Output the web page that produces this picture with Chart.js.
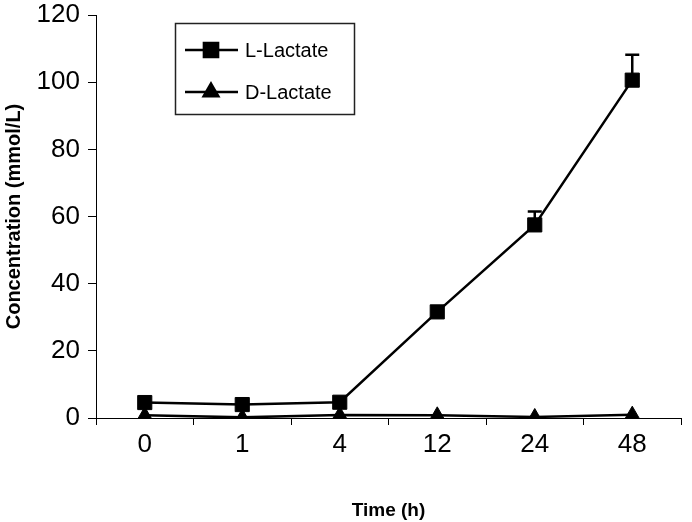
<!DOCTYPE html>
<html>
<head>
<meta charset="utf-8">
<style>
  html, body { margin: 0; padding: 0; background: #fff; }
  #wrap { width: 692px; height: 522px; }
</style>
<script src="https://cdn.jsdelivr.net/npm/chart.js@4/dist/chart.umd.min.js"></script>
</head>
<body>
<div id="wrap"><canvas id="c" width="692" height="522"></canvas></div>
<script>
const timeLabels = ['0', '1', '4', '12', '24', '48'];
const lLactate = [4.6, 4.0, 4.7, 31.6, 57.5, 100.6];
const lLactateErr = [0, 0, 0, 0, 4.0, 7.6];
const dLactate = [0.8, 0.2, 0.9, 0.8, 0.3, 1.0];
const yTicks = [0, 20, 40, 60, 80, 100, 120];

const FONT = "'Liberation Sans', Arial, sans-serif";

const errorBars = {
  id: 'errorBars',
  afterDatasetsDraw(chart) {
    const ctx = chart.ctx;
    const meta = chart.getDatasetMeta(0);
    const ys = chart.scales.y;
    ctx.save();
    ctx.strokeStyle = '#000';
    ctx.lineWidth = 2.5;
    meta.data.forEach((pt, i) => {
      const e = lLactateErr[i];
      if (!e) return;
      const yTop = ys.getPixelForValue(lLactate[i] + e);
      ctx.beginPath();
      ctx.moveTo(pt.x, pt.y);
      ctx.lineTo(pt.x, yTop);
      ctx.moveTo(pt.x - 7, yTop);
      ctx.lineTo(pt.x + 7, yTop);
      ctx.stroke();
    });
    ctx.restore();
  }
};

const boxLegend = {
  id: 'boxLegend',
  afterDraw(chart) {
    const ctx = chart.ctx;
    ctx.save();
    ctx.strokeStyle = '#222';
    ctx.lineWidth = 1.5;
    ctx.strokeRect(175.5, 23.5, 179, 91);
    const rows = [50, 92];
    chart.data.datasets.forEach((ds, i) => {
      const y = rows[i];
      ctx.strokeStyle = '#000';
      ctx.lineWidth = 2.5;
      ctx.beginPath();
      ctx.moveTo(185, y);
      ctx.lineTo(238, y);
      ctx.stroke();
      ctx.fillStyle = '#000';
      Chart.helpers.drawPoint(ctx, {
        pointStyle: ds.pointStyle,
        radius: ds.pointRadius,
        borderWidth: 1
      }, 211, y);
      ctx.fillStyle = '#000';
      ctx.font = '20px ' + FONT;
      ctx.textBaseline = 'middle';
      ctx.textAlign = 'left';
      ctx.fillText(ds.label, 245, y + 1);
    });
    ctx.restore();
  }
};

new Chart(document.getElementById('c'), {
  type: 'line',
  data: {
    labels: timeLabels,
    datasets: [
      {
        label: 'L-Lactate',
        data: lLactate,
        borderColor: '#000',
        backgroundColor: '#000',
        borderWidth: 2.5,
        pointStyle: 'rect',
        pointRadius: 10,
        pointBorderWidth: 1,
        tension: 0
      },
      {
        label: 'D-Lactate',
        data: dLactate,
        borderColor: '#000',
        backgroundColor: '#000',
        borderWidth: 2.5,
        pointStyle: 'triangle',
        pointRadius: 8.5,
        pointBorderWidth: 1,
        tension: 0
      }
    ]
  },
  options: {
    responsive: false,
    animation: false,
    devicePixelRatio: 1,
    layout: { padding: { top: 15, right: 4, left: 0, bottom: 0 } },
    plugins: {
      legend: { display: false },
      tooltip: { enabled: false }
    },
    scales: {
      x: {
        type: 'category',
        offset: true,
        grid: { drawOnChartArea: false, drawTicks: true, tickLength: 7, color: '#000', lineWidth: 1, offset: true },
        border: { color: '#000', width: 1 },
        ticks: { color: '#000', font: { family: FONT, size: 26 }, padding: 4, maxRotation: 0 },
        title: { display: true, text: 'Time (h)', color: '#000', font: { family: FONT, size: 19, weight: 'bold' }, padding: { top: 28, bottom: 0 } },
        afterFit(s) { s.height = 104; s.paddingLeft = 0; s.paddingRight = 0; }
      },
      y: {
        min: 0,
        max: 120,
        afterBuildTicks(s) { s.ticks = yTicks.map(v => ({ value: v })); },
        grid: { drawOnChartArea: false, drawTicks: true, tickLength: 8, color: '#000', lineWidth: 1 },
        border: { color: '#000', width: 1 },
        ticks: { color: '#000', font: { family: FONT, size: 26 }, padding: 8 },
        title: { display: true, text: 'Concentration (mmol/L)', color: '#000', font: { family: FONT, size: 20, weight: 'bold' }, padding: { top: 2, bottom: 0 } },
        afterFit(s) { s.width = 96; s.paddingTop = 0; s.paddingBottom = 0; }
      }
    }
  },
  plugins: [errorBars, boxLegend]
});
</script>
</body>
</html>
